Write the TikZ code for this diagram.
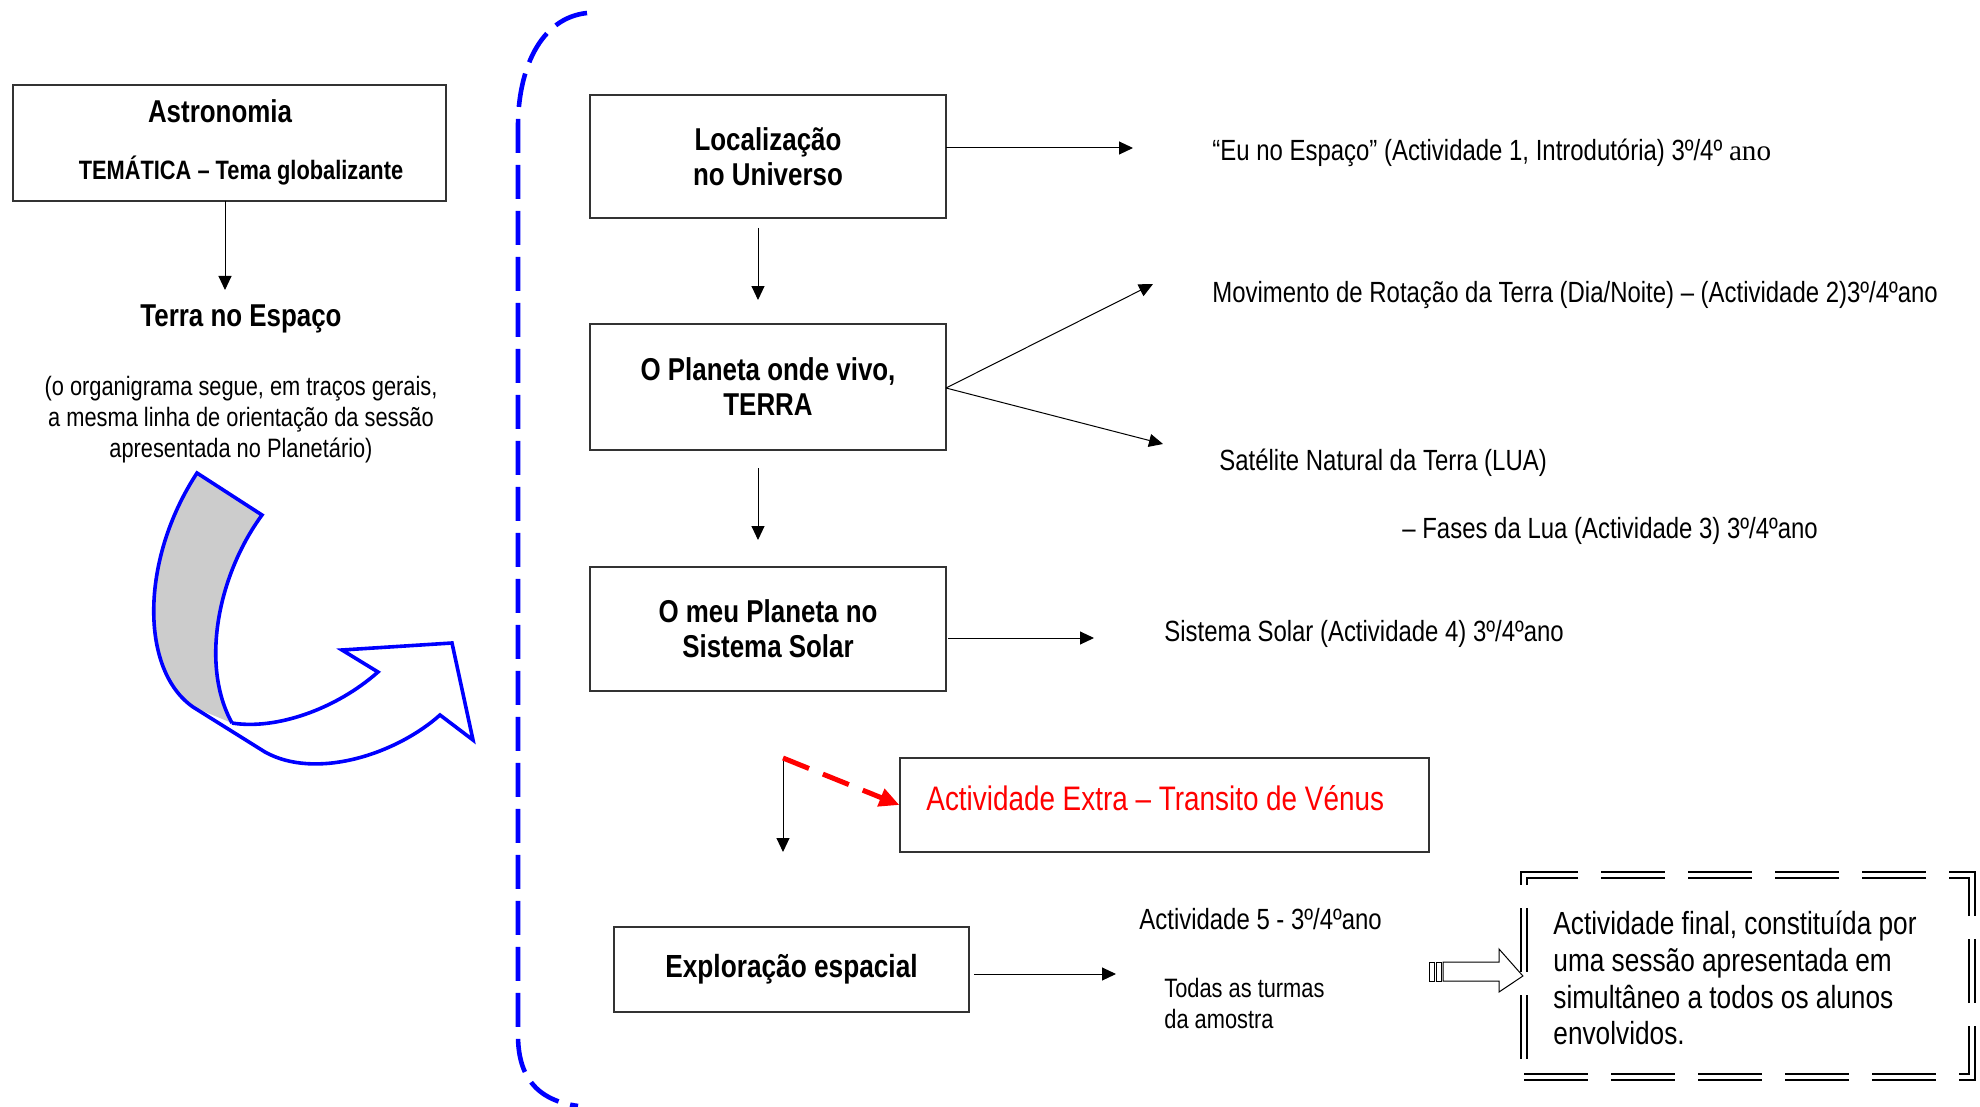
\documentclass[tikz,border=0pt]{standalone}
\usepackage{fontspec}
\setmainfont[FakeStretch=0.82]{Liberation Sans}
\newfontfamily\timesfont{Liberation Serif}
\usetikzlibrary{arrows.meta}
\begin{document}
\begin{tikzpicture}[x=0.5pt,y=-0.5pt,
  box/.style={draw=black!80,line width=0.6pt,inner sep=0pt,align=center,
    font=\bfseries\fontsize{15.8}{17.5}\selectfont},
  head/.style={inner sep=0pt,font=\bfseries\fontsize{15.8}{17.5}\selectfont},
  conn/.style={line width=0.5pt,-{Triangle[length=7pt,width=6.5pt]}},
  rt/.style={inner sep=0pt,anchor=base west,font=\fontsize{14.6}{17}\selectfont},
  small/.style={inner sep=0pt,font=\fontsize{13.3}{15.5}\selectfont},
]
\useasboundingbox (0,0) rectangle (1980,1107);

% ---- left column: theme ----
\node[box,minimum width=216.5pt,minimum height=58pt] (astro) at (229.5,143) {};
\node[head,anchor=base] (astrot) at (220,123) {Astronomia};
\node[inner sep=0pt,anchor=base,font=\bfseries\fontsize{13.3}{15}\selectfont] (tema) at (241,180)
  {TEMÁTICA – Tema globalizante};
\node[head,anchor=base] (terra) at (241,326) {Terra no Espaço};
\node[small,anchor=north,align=center] (nota) at (241,376)
  {(o organigrama segue, em traços gerais,\\a mesma linha de orientação da sessão\\apresentada no Planetário)};

\coordinate (astroout) at (225,201);
\coordinate (terrain) at (225,290);
\draw[conn] (astroout) -- (terrain);

% curved block arrow
\fill[black!20] (197,473) -- (262,515)
  .. controls (218,575) and (200,665) .. (232,723)
  -- (193,707)
  .. controls (140,670) and (140,560) .. (197,473) -- cycle;
\draw[blue,line width=1.8pt,line join=miter]
  (232,723) .. controls (275,730) and (335,710) .. (378,672)
  -- (342,650) -- (452,643) -- (473,740) -- (440,715)
  .. controls (395,755) and (315,780) .. (265,752)
  -- (193,707)
  .. controls (140,670) and (140,560) .. (197,473)
  -- (262,515)
  .. controls (218,575) and (200,665) .. (232,723);

% dashed bracket
\draw[blue,line width=2.3pt,dash pattern=on 17pt off 6pt]
  (587,13) .. controls (540,18) and (518,70) .. (518,126)
  -- (518,1035) .. controls (518,1075) and (535,1100) .. (578,1106);

% ---- central column ----
\node[box,minimum width=178pt,minimum height=61.5pt] (loc) at (768,156.5)
  {Localização\\no Universo};
\node[box,minimum width=178pt,minimum height=63pt] (plan) at (768,387)
  {O Planeta onde vivo,\\TERRA};
\node[box,minimum width=178pt,minimum height=62pt] (meu) at (768,629)
  {O meu Planeta no\\Sistema Solar};
\node[box,minimum width=177.5pt,minimum height=42.5pt,font=\bfseries\fontsize{16}{18}\selectfont]
  (expl) at (791.5,969.5) {Exploração espacial};
\node[draw=black!80,line width=0.6pt,minimum width=264.5pt,minimum height=47pt,inner sep=0pt]
  (redbox) at (1164.5,805) {};
\node[inner sep=0pt,anchor=base west,text=red,font=\fontsize{17}{19}\selectfont] (redt) at (926,810)
  {Actividade Extra – Transito de Vénus};

\coordinate (locdown) at (758,228);
\coordinate (planin) at (758,300);
\coordinate (plandown) at (758,468);
\coordinate (meuin) at (758,540);
\coordinate (split) at (783,758);
\coordinate (splitend) at (783,852);
\draw[conn] (locdown) -- (planin);
\draw[conn] (plandown) -- (meuin);
\draw[conn] (split) -- (splitend);
\draw[red,line width=2.5pt,dash pattern=on 14pt off 7.5pt,-{Triangle[length=10pt,width=9pt]}]
  (split) -- (redbox.west);

% ---- right column ----
\node[rt] (eu) at (1212,161)
  {“Eu no Espaço” (Actividade 1, Introdutória) 3º/4º {\timesfont ano}};
\node[rt] (mov) at (1212,302)
  {Movimento de Rotação da Terra (Dia/Noite) – (Actividade 2)3º/4ºano};
\node[rt] (sat) at (1219,470) {Satélite Natural da Terra (LUA)};
\node[rt] (fases) at (1402,538) {– Fases da Lua (Actividade 3) 3º/4ºano};
\node[rt] (sis) at (1164,641) {Sistema Solar (Actividade 4) 3º/4ºano};
\node[rt] (act5) at (1139,929) {Actividade 5 - 3º/4ºano};
\node[small,anchor=north west,align=left] (todas) at (1164,978)
  {Todas as turmas\\da amostra};

\coordinate (loc1) at (946,148);
\coordinate (euin) at (1133,148);
\coordinate (planr) at (946,388);
\coordinate (movin) at (1153,284);
\coordinate (satin) at (1163,444);
\coordinate (meur) at (948,638);
\coordinate (sisin) at (1094,638);
\coordinate (explr) at (974,974);
\coordinate (act5in) at (1116,974);
\draw[conn] (loc1) -- (euin);
\draw[conn] (planr) -- (movin);
\draw[conn] (planr) -- (satin);
\draw[conn] (meur) -- (sisin);
\draw[conn] (explr) -- (act5in);

% final activity
\node[draw,line width=1.1pt,double=white,double distance=1.6pt,
  dash pattern=on 32pt off 11.5pt,minimum width=224pt,minimum height=101pt,inner sep=0pt]
  (final) at (1748,976) {};
\node[inner sep=0pt,anchor=north west,align=left,font=\fontsize{16}{18.3}\selectfont] (finalt) at (1553,911)
  {Actividade final, constituída por\\uma sessão apresentada em\\simultâneo a todos os alunos\\envolvidos.};

% hollow block arrow towards the final box
\draw[line width=0.5pt,fill=white] (1443,962) -- (1499,962) -- (1499,949) -- (final.west)
  -- (1499,992) -- (1499,981) -- (1443,981) -- cycle;
\draw[line width=0.5pt] (1429,962) rectangle (1434,981);
\draw[line width=0.5pt] (1436,962) rectangle (1441,981);
\end{tikzpicture}
\end{document}
